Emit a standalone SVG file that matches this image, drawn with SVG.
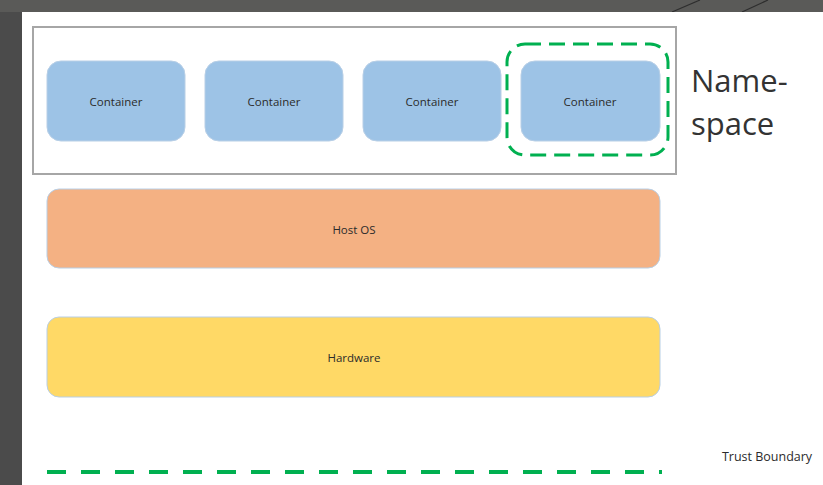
<svg xmlns="http://www.w3.org/2000/svg" width="823" height="485" viewBox="0 0 823 485">
  <style>
    .container rect { fill: #9dc3e6; stroke: #b8cfe6; stroke-width: 1; }
    .label { font-family: "Open Sans", "Liberation Sans", sans-serif; fill: #2b2b2b; text-anchor: middle; dominant-baseline: central; }
    .small { font-size: 11.5px; }
    .tb { font-size: 12.5px; }
    .big { font-family: "Open Sans", "Liberation Sans", sans-serif; fill: #333333; font-size: 31px; }
    .green { fill: none; stroke: #00b050; }
  </style>

  <!-- slide background and white canvas -->
  <rect x="0" y="0" width="823" height="485" fill="#4b4b4b"/>
  <rect x="0" y="0" width="823" height="12" fill="#5a5a58"/>
  <path d="M672,12 L700,0 M742,12 L768,0" stroke="#2e2e2e" stroke-width="1.2"/>
  <rect x="22" y="12" width="801" height="473" fill="#ffffff"/>

  <!-- namespace frame -->
  <g id="namespace">
    <rect x="33" y="27" width="643" height="147" fill="#ffffff" stroke="#a6a6a6" stroke-width="2"/>
    <text class="big" x="691" y="92">Name-</text>
    <text class="big" x="691" y="135">space</text>
  </g>

  <g id="container1" class="container">
    <rect x="47" y="61" width="138" height="80" rx="14"/>
    <text class="label small" x="116" y="101">Container</text>
  </g>
  <g id="container2" class="container">
    <rect x="205" y="61" width="138" height="80" rx="14"/>
    <text class="label small" x="274" y="101">Container</text>
  </g>
  <g id="container3" class="container">
    <rect x="363" y="61" width="138" height="80" rx="14"/>
    <text class="label small" x="432" y="101">Container</text>
  </g>
  <g id="container4" class="container">
    <rect x="521" y="61" width="139" height="80" rx="14"/>
    <text class="label small" x="590" y="101">Container</text>
  </g>

  <!-- isolation outline around one container -->
  <g id="isolation">
    <rect class="green" x="507" y="44" width="161" height="111" rx="18" stroke-width="3" stroke-dasharray="16 8"/>
  </g>

  <g id="host-os">
    <rect x="47" y="189" width="613" height="79" rx="12" fill="#f4b183" stroke="#b8cfe6" stroke-width="1"/>
    <text class="label small" x="354" y="229">Host OS</text>
  </g>

  <g id="hardware">
    <rect x="47" y="317" width="613" height="80" rx="12" fill="#ffd966" stroke="#b8cfe6" stroke-width="1"/>
    <text class="label small" x="354" y="357">Hardware</text>
  </g>

  <!-- trust boundary -->
  <g id="connectors">
    <line class="green" x1="47" y1="472" x2="662" y2="472" stroke-width="4" stroke-dasharray="19 15"/>
  </g>
  <g id="trust-boundary-label">
    <text class="label tb" x="767" y="456">Trust Boundary</text>
  </g>
</svg>
